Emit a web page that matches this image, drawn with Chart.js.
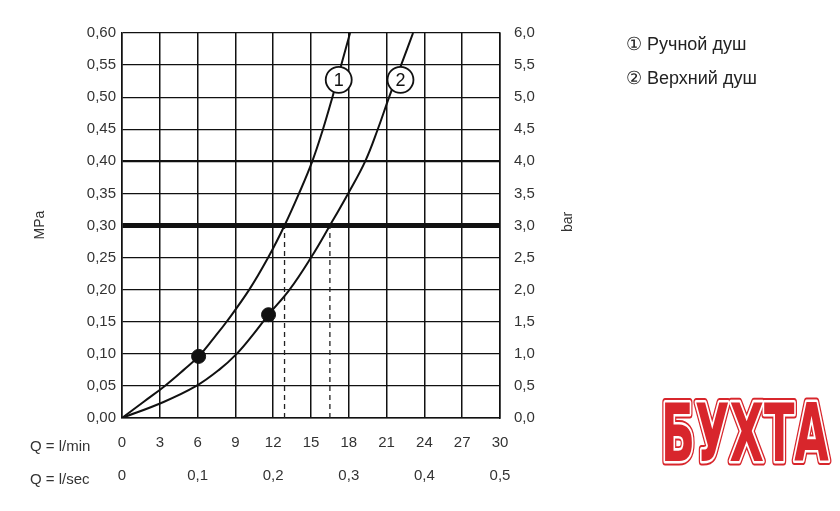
<!DOCTYPE html>
<html><head><meta charset="utf-8">
<script src="https://cdn.jsdelivr.net/npm/chart.js@4"></script>
<style>html,body{margin:0;padding:0;background:#fff}#w{width:840px;height:511px}</style>
</head><body><div id="w"><canvas id="c"></canvas></div>
<script>
const curve1Q = [0, 1.7, 3.4, 4.9, 6.08, 7.3, 8.3, 10.1, 11.6, 12.9, 14.05, 15.1, 15.95, 16.7, 17.4, 18.1];
const curve1P = [0, 0.025, 0.05, 0.075, 0.096, 0.125, 0.15, 0.20, 0.25, 0.30, 0.35, 0.40, 0.45, 0.50, 0.55, 0.60];
const curve2Q = [0, 3.3, 5.9, 7.7, 9.1, 10.4, 11.63, 13.3, 15.0, 16.5, 17.95, 19.3, 20.3, 21.2, 22.15, 23.1];
const curve2P = [0, 0.025, 0.05, 0.075, 0.10, 0.13, 0.161, 0.20, 0.25, 0.30, 0.35, 0.40, 0.45, 0.50, 0.55, 0.60];
const dotQ = [6.08, 11.63];
const dotP = [0.096, 0.161];
const dashQ = [12.9, 16.5];
const dashTop = 0.30;
const labelText = ['1', '2'];
const labelQ = [17.2, 22.1];
const labelP = [0.527, 0.527];
const legendItems = ['① Ручной душ', '② Верхний душ'];
const xTitles = ['Q = l/min', 'Q = l/sec'];
const yTitles = ['MPa', 'bar'];
const F = 'Liberation Sans, Arial, sans-serif';
const comma = (v, d) => v.toFixed(d).replace('.', ',');
const pts = (q, p) => q.map((x, i) => ({x, y: p[i]}));
const ds = [
  {data: pts(curve1Q, curve1P), borderColor:'#111', borderWidth:2, pointRadius:0, tension:0.4, showLine:true},
  {data: pts(curve2Q, curve2P), borderColor:'#111', borderWidth:2, pointRadius:0, tension:0.4, showLine:true},
  {data: pts(dotQ, dotP), pointRadius:7, pointBackgroundColor:'#111', pointBorderColor:'#111', showLine:false},
];
dashQ.forEach(q => ds.push({data:[{x:q,y:0},{x:q,y:dashTop}], borderColor:'#222', borderWidth:1.3, borderDash:[5,4], pointRadius:0, showLine:true}));
const deco = {
  id:'deco',
  afterDatasetsDraw(ch){
    const c = ch.ctx, xs = ch.scales.x, ys = ch.scales.y;
    c.save();
    labelText.forEach((t,i)=>{
      const x = xs.getPixelForValue(labelQ[i]), y = ys.getPixelForValue(labelP[i]);
      c.beginPath(); c.arc(x,y,13,0,Math.PI*2); c.fillStyle='#fff'; c.fill();
      c.lineWidth=1.8; c.strokeStyle='#111'; c.stroke();
      c.fillStyle='#111'; c.font='18px '+F; c.textAlign='center'; c.textBaseline='middle';
      c.fillText(t,x,y+1);
    });
    c.font='18px '+F; c.textAlign='left'; c.textBaseline='middle'; c.fillStyle='#222';
    legendItems.forEach((t,i)=> c.fillText(t, 626, 45+i*34));
    c.font='15px '+F; c.fillStyle='#333';
    xTitles.forEach((t,i)=> c.fillText(t, 30, 447+i*33));
    c.font='14px '+F; c.textAlign='center';
    [[40,225],[568,222]].forEach((p,i)=>{c.save(); c.translate(p[0],p[1]); c.rotate(-Math.PI/2); c.fillText(yTitles[i],0,0); c.restore();});
    c.font='bold 62px "DejaVu Sans Condensed", "DejaVu Sans", sans-serif';
    c.textAlign='center'; c.textBaseline='middle';
    c.save(); c.translate(745,440); c.scale(0.8,1.3);
    c.lineJoin='round';
    c.lineWidth=7; c.strokeStyle='#d8262c'; c.strokeText('БУХТА',0,0);
    c.lineWidth=4; c.strokeStyle='#fff'; c.strokeText('БУХТА',0,0);
    c.fillStyle='#d8262c'; c.fillText('БУХТА',0,0);
    c.restore();
    c.restore();
  }
};
new Chart(document.getElementById('c'), {
  type:'scatter',
  data:{datasets:ds},
  options:{
    responsive:true, maintainAspectRatio:false, animation:false,
    layout:{padding:{top:33,right:280,left:0,bottom:0}},
    plugins:{legend:{display:false}, tooltip:{enabled:false}},
    scales:{
      x:{type:'linear', min:0, max:30,
        afterFit(s){s.height=93;},
        border:{color:'#111', width:1.5},
        grid:{color:'#111', lineWidth:1.5, drawTicks:false},
        ticks:{stepSize:3, padding:8, color:'#333', font:{family:F,size:15,lineHeight:2.2},
          callback:v=> v%6===0 ? [String(v), v===0?'0':comma(v/60,1)] : [String(v),'']}},
      y:{type:'linear', position:'left', min:0, max:0.6,
        afterFit(s){s.width=122;},
        border:{color:'#111', width:1.5},
        grid:{color:'#111', drawTicks:false, lineWidth:c=>{const v=Math.round(c.tick.value*100);return v===30?5:(v===40?2.2:1.3);}},
        ticks:{stepSize:0.05, padding:6, color:'#333', font:{family:F,size:15}, callback:v=>comma(v,2)}},
      y2:{type:'linear', position:'right', min:0, max:6,
        afterFit(s){s.width=60;},
        border:{color:'#111', width:1.5},
        grid:{display:false},
        ticks:{stepSize:0.5, padding:6, color:'#333', font:{family:F,size:15}, callback:v=>comma(v,1)}}
    }
  },
  plugins:[deco]
});
</script></body></html>
